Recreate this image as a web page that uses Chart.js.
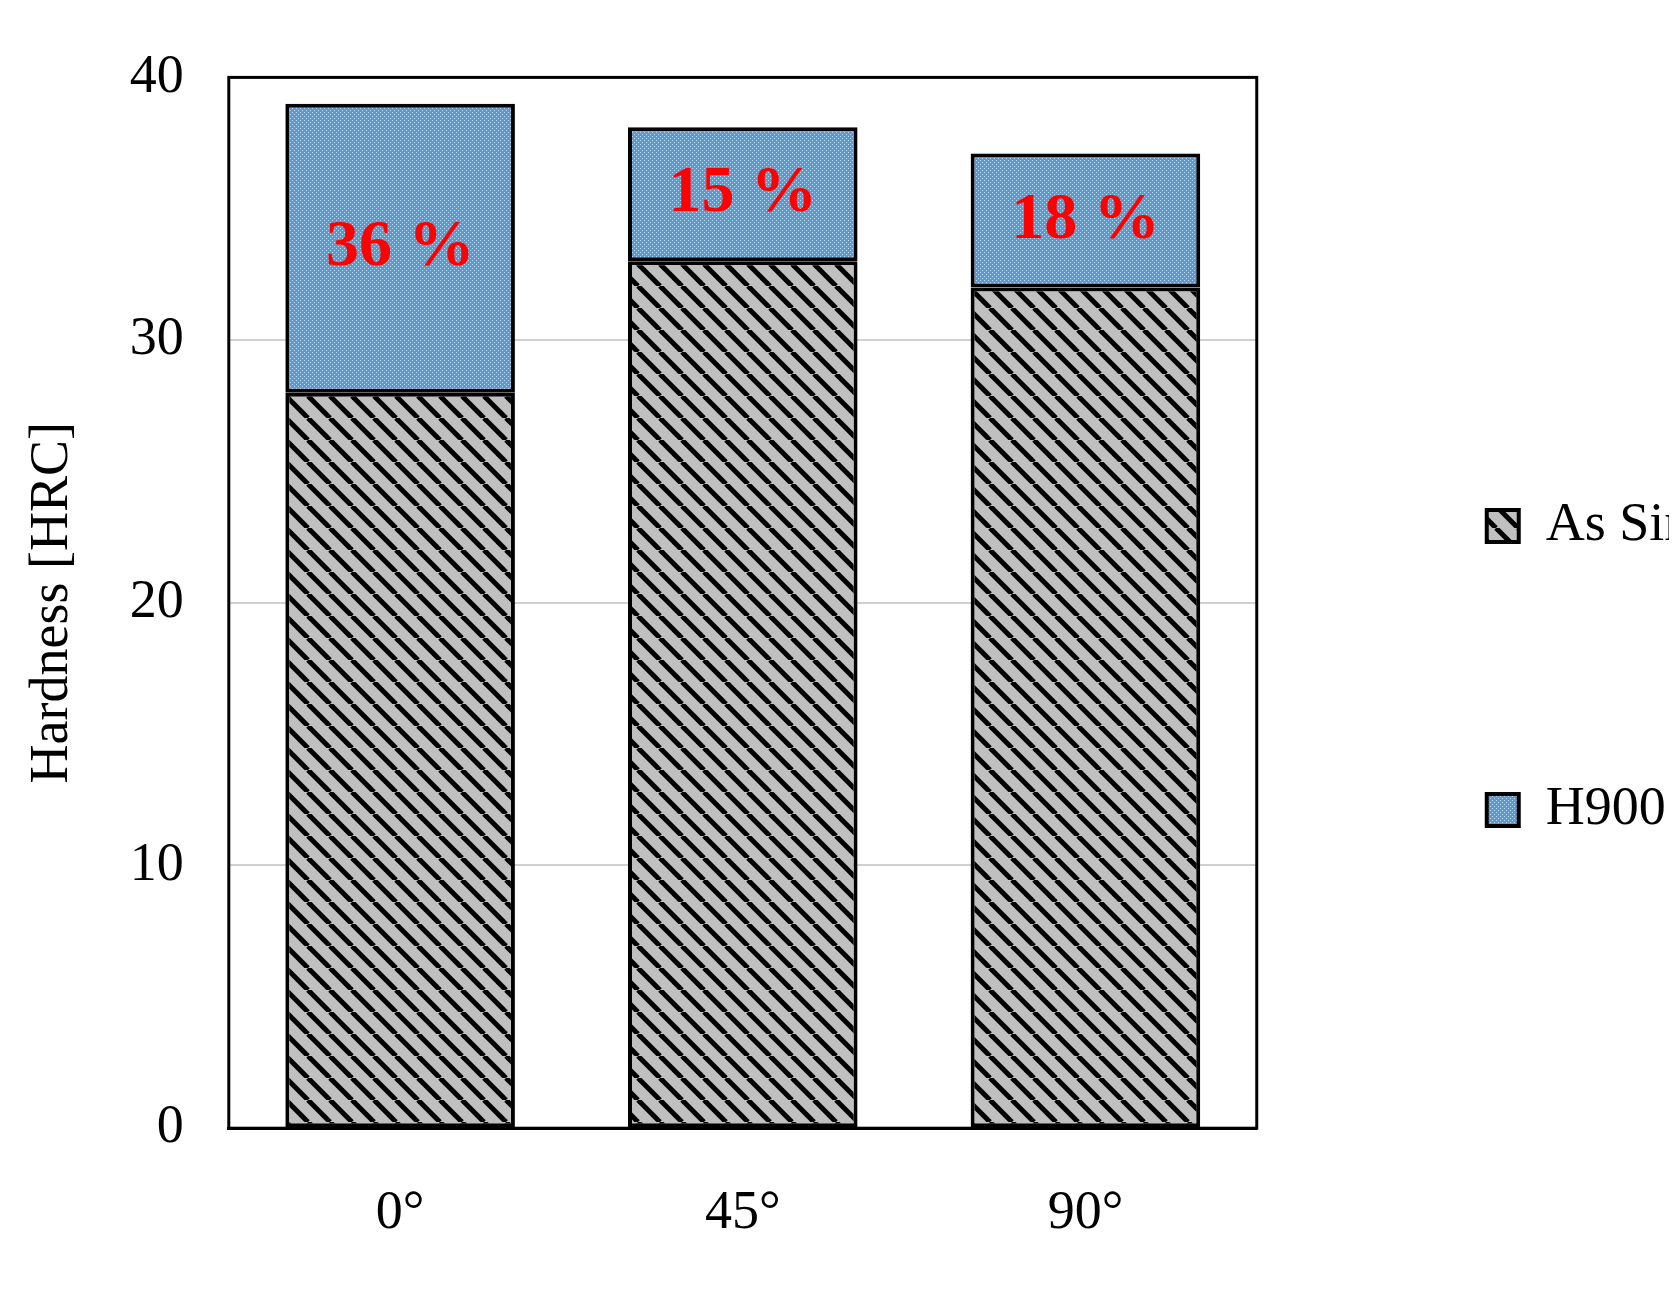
<!DOCTYPE html>
<html><head><meta charset="utf-8">
<script src="https://cdn.jsdelivr.net/npm/chart.js@4"></script>
<style>html,body{margin:0;padding:0;background:#fff}#w{width:1679px;height:1301px}</style>
</head><body><div id="w"><canvas id="c"></canvas></div>
<script>
const categories = ["0°", "45°", "90°"];
const asSintered = [28, 33, 32];
const h900Increase = [11, 5.1, 5.1];
const increaseLabels = ["36 %", "15 %", "18 %"];
const yTicks = [0, 10, 20, 30, 40];

function hatch(){
  const s=22;const c=document.createElement('canvas');c.width=s;c.height=s;const x=c.getContext('2d');
  x.fillStyle='#c0c0c0';x.fillRect(0,0,s,s);x.strokeStyle='#000';x.lineWidth=5;
  for(let k=-s;k<=s;k+=s){x.beginPath();x.moveTo(k,0);x.lineTo(k+s,s);x.stroke();}
  return x.createPattern(c,'repeat');
}
function dots(){
  const c=document.createElement('canvas');c.width=4;c.height=4;const x=c.getContext('2d');
  x.fillStyle='#5b9bd5';x.fillRect(0,0,4,4);x.fillStyle='#bcd6ee';x.fillRect(0,0,1,1);x.fillRect(2,2,1,1);
  return x.createPattern(c,'repeat');
}
const labelPlugin={id:'lbl',afterDatasetsDraw(ch){
  const ctx=ch.ctx;const m=ch.getDatasetMeta(1);
  ctx.save();ctx.fillStyle='#ff0000';ctx.font='bold 66px "Liberation Serif"';ctx.textAlign='center';ctx.textBaseline='middle';
  m.data.forEach((b,i)=>{ctx.fillText(increaseLabels[i],b.x,(b.y+b.base)/2);});
  ctx.restore();
}};
const frame={id:'frame',afterDraw(ch){const a=ch.chartArea,ctx=ch.ctx;ctx.save();ctx.strokeStyle='#000';ctx.lineWidth=3;ctx.strokeRect(a.left,a.top,a.right-a.left,a.bottom-a.top);ctx.restore();}};
new Chart(document.getElementById('c'),{
  type:'bar',
  data:{labels:categories,datasets:[
    {label:'As Sintered',data:asSintered,backgroundColor:hatch(),borderColor:'#000',borderWidth:4,borderSkipped:false,categoryPercentage:1,barPercentage:0.67},
    {label:'H900',data:h900Increase,backgroundColor:dots(),borderColor:'#000',borderWidth:4,borderSkipped:false,categoryPercentage:1,barPercentage:0.67}
  ]},
  options:{responsive:true,maintainAspectRatio:false,animation:false,
    layout:{padding:{left:20,right:10,top:45,bottom:10}},
    plugins:{tooltip:{enabled:false},legend:{position:'right',
      labels:{font:{family:'Liberation Serif',size:54},color:'#000',boxWidth:32,boxHeight:32,padding:230,useBorderRadius:false}}},
    scales:{
      x:{stacked:true,grid:{display:false},border:{color:'#000',width:3},
        ticks:{font:{family:'Liberation Serif',size:54},color:'#000',padding:45}},
      y:{stacked:true,min:0,max:40,afterBuildTicks(s){s.ticks=yTicks.map(v=>({value:v}));},
        grid:{color:'#d0d0d0',lineWidth:2,drawTicks:false},border:{display:false},
        ticks:{font:{family:'Liberation Serif',size:54},color:'#000',padding:45},
        title:{display:true,text:'Hardness [HRC]',font:{family:'Liberation Serif',size:54},color:'#000',padding:0}}
    }},
  plugins:[labelPlugin,frame]
});
</script></body></html>
